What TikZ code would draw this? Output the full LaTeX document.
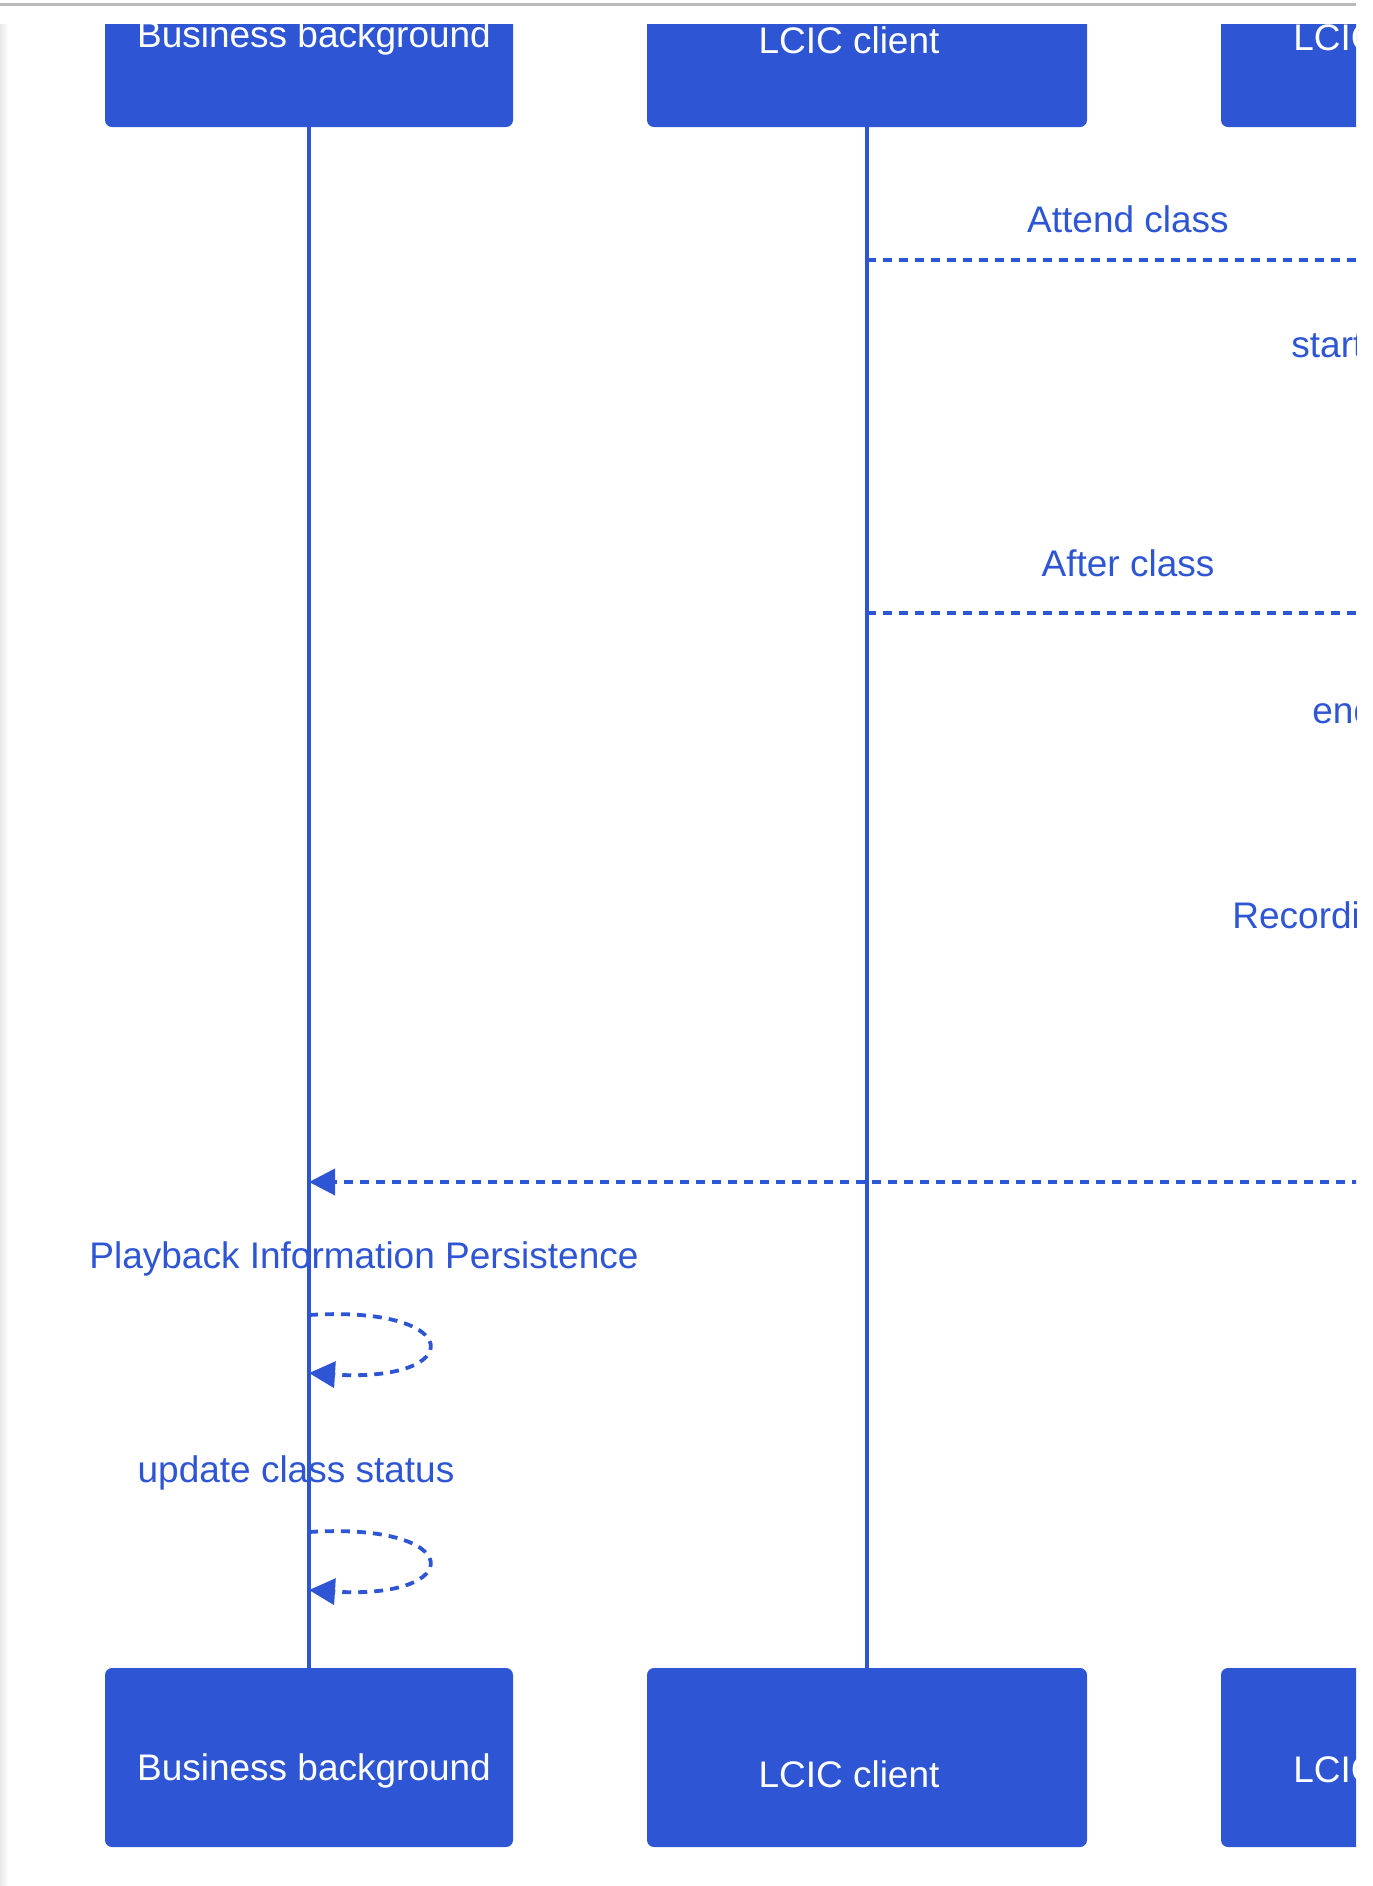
\documentclass[tikz,border=0pt]{standalone}
\usepackage{fontspec}
\setmainfont{Liberation Sans}
\usepackage{xcolor}
\usepackage{tikz}
\usetikzlibrary{arrows.meta, positioning}
\definecolor{lcicblue}{HTML}{2E56D4}
\tikzstyle{actor} = [rectangle, fill=lcicblue, rounded corners=3.5pt, minimum height=89.5pt, inner sep=0pt]
\tikzstyle{actorname} = [text=white, anchor=base, inner sep=0pt]
\tikzstyle{lifeline} = [draw=lcicblue, line width=2.4pt]
\tikzstyle{msg} = [draw=lcicblue, line width=1.9pt, dash pattern=on 4.5pt off 3.5pt]
\tikzstyle{arrow} = [msg, -{Triangle[length=13pt, width=13pt]}]
\tikzstyle{msgtext} = [text=lcicblue, anchor=base, inner sep=0pt]
\tikzset{every node/.style={align=center, font=\fontsize{18.5}{22}\selectfont}}

\begin{document}
\begin{tikzpicture}[x=0.5pt, y=-0.5pt]
    \useasboundingbox (0,0) rectangle (1372,1886);
    % screenshot edges
    \draw [black!27, line width=1.5pt] (0,4) -- (1356,4);
    \shade [left color=black!9, right color=white] (0,24) rectangle (8,1886);

    \begin{scope}
    \clip (8,24) rectangle (1356,1886);

    % participants
    \node (bizTop)    [actor, minimum width=204pt] at (309,37.5) {};
    \node (clientTop) [actor, minimum width=220pt] at (867,37.5) {};
    \node (lcicTop)   [actor, minimum width=220pt] at (1441,37.5) {};
    \node (bizBot)    [actor, minimum width=204pt] at (309,1757.5) {};
    \node (clientBot) [actor, minimum width=220pt] at (867,1757.5) {};
    \node (lcicBot)   [actor, minimum width=220pt] at (1441,1757.5) {};

    \node (bizTopName)    [actorname] at (314,47) {Business background};
    \node (clientTopName) [actorname] at (849,53) {LCIC client};
    \node (lcicTopName)   [actorname, anchor=base west] at (1293,50) {LCIC};
    \node (bizBotName)    [actorname] at (314,1780) {Business background};
    \node (clientBotName) [actorname] at (849,1787) {LCIC client};
    \node (lcicBotName)   [actorname, anchor=base west] at (1293,1782) {LCIC};

    \draw [lifeline] (bizTop.south) -- (bizBot.north);
    \draw [lifeline] (clientTop.south) -- (clientBot.north);

    % message rows
    \coordinate (attend) at (0,260);
    \coordinate (after)  at (0,613);
    \coordinate (replay) at (0,1182);
    \coordinate (saveA)  at (0,1315);
    \coordinate (saveB)  at (0,1373);
    \coordinate (statA)  at (0,1532);
    \coordinate (statB)  at (0,1590);

    \node (attendText) [msgtext] at (1128,232) {Attend class};
    \draw [arrow] (clientTop |- attend) -- (lcicTop |- attend);
    \node (startText)  [msgtext, anchor=base west] at (1291,357) {start};

    \node (afterText)  [msgtext] at (1128,576) {After class};
    \draw [arrow] (clientTop |- after) -- (lcicTop |- after);
    \node (endText)    [msgtext, anchor=base west] at (1312,723) {end};

    \node (recText)    [msgtext, anchor=base west] at (1232,928) {Recording};

    \draw [arrow] (lcicTop |- replay) -- (bizTop |- replay);

    \node (saveText) [msgtext] at (364,1268) {Playback Information Persistence};
    \draw [arrow] (bizTop |- saveA) .. controls +(158,-10) and +(158,10) .. (bizTop |- saveB);

    \node (statText) [msgtext] at (296,1482) {update class status};
    \draw [arrow] (bizTop |- statA) .. controls +(158,-10) and +(158,10) .. (bizTop |- statB);
    \end{scope}
\end{tikzpicture}
\end{document}
